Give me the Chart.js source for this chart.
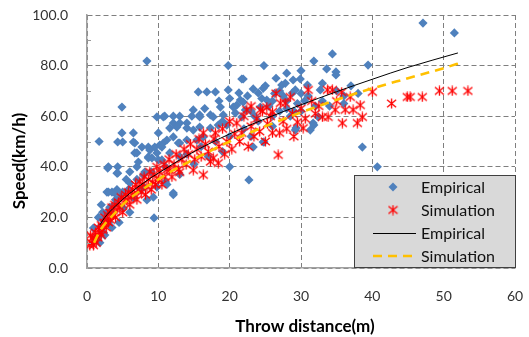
<!DOCTYPE html>
<html>
<head>
<meta charset="utf-8">
<script src="https://cdn.jsdelivr.net/npm/chart.js@4.4.1/dist/chart.umd.min.js"></script>
<style>
  html, body { margin: 0; padding: 0; background: #fff; }
  #wrap { width: 529px; height: 337px; }
</style>
</head>
<body>
<div id="wrap"><canvas id="speedChart" width="529" height="337"></canvas></div>
<script>
// measured cases: [throw distance (m), speed (km/h)]
const empiricalPoints = [
  [0.9,15.8],[1.2,12],[1.5,12],[1.8,10],[1.6,20],[1.8,16.2],[2.2,19],[2.5,20],[2.3,14],[2.8,22],[3.2,24],[3,18],[1.7,50],
  [2.8,30],[3.5,30],[4.2,31],[3.9,29.6],[3,40],[4.3,40],[4.2,37.5],[3,30],[2.9,39.5],[4.3,37.5],[5.1,23.7],[6,33.6],
  [6.5,27.7],[7,40],[7.9,36.8],[8.4,26.9],[9.3,28],[8.6,43.9],[9.8,45.5],[12.1,29.6],[9.4,19.8],
  [4.9,63.6],[9.8,59.7],[4.3,49.8],[5,49.8],[6.5,49.8],[6.7,45.5],[8.6,47.8],[9.5,47.8],[10.2,48.6],[7.2,41.9],
  [9.1,43.5],[10,42.7],[8.1,37.9],[8.4,81.8],[4.9,53.4],[6.5,53.4],[6.7,49.4],[7.7,47.8],[7,45.5],[8.8,46.6],
  [8.6,43.5],[10.7,49.4],[12.1,57.3],[10,53.4],[12.1,51.8],[13,49.4],[10.7,59.7],
  [10.9,60],[12.1,60],[13,60],[14.7,60],[15.8,60.5],[17.3,60.5],[19.1,60.5],[21,64.4],[20.8,61.3],[21.7,59.7],
  [13,57.3],[11.6,55.3],[14,55.3],[14.9,54.5],[17.3,55.3],[18.4,56.5],[19.6,56.5],[11.2,50.6],[10.5,47.8],
  [12.8,49.4],[14,50.6],[15.4,50.6],[16.3,51.8],[11.6,45.5],[10.5,42.7],[20,40],
  [24.3,63.6],[22.2,62.5],[25.2,66.4],[21.9,65.6],[31.7,57.3],[31.3,54.5],[29.2,54.5],[24.7,49.8],[23.3,47.8],
  [15.6,69.6],[16.8,69.6],[18,69.6],[19.8,70.4],[21.3,69.2],[21.9,74.7],[23.3,70.8],[24,69.2],[18.7,63.6],
  [20.5,63.6],[21.5,66.4],[14,57.3],[12.6,55.7],[15.8,59.7],[17.7,59.7],[14.9,62.5],[15.8,55.7],
  [19.8,80],[24.8,80],[21.7,74.7],
  [47.1,96.8],[51.5,92.9],[34.4,84.6],[31.8,81.8],[33.6,78.7],[34.9,76.3],[34.9,77.5],[39.4,80.2],[29.9,74.7],
  [30.9,72.3],[28.9,74.3],[27.3,72.3],[24.7,71],[24.5,67],[28.8,69.2],[29.2,70.4],[32.7,70.4],[31.8,56.5],
  [32.4,59.7],[24.8,49.8],[29.3,55.3],[38.6,47.8],[40.7,40],[22.7,34.8],[12.1,29],
  [2,25],[3.5,22],[4,27],[5,30],[5.5,35],[6,38],[7,35],[8,32],[9,38],[11,40],[13,44],[14,45],[16,48],[18,50],
  [20,52],[22,55],[24,58],[26,60],[27,62],[28,63],[30,62],[33,66],[35,70],[36,68],[37,72],[26,56],[23,52],
  [19,46],[17,44],[15,41],[13,37],[11,34],[6,22],[4.5,18],[3.5,16],[2.5,13],
  [26.5,75],[27.5,68],[29.5,65],[33,73],[36,65],[38,69],[34,64],[30,78],[28,77],
  [2.2,22],[3.8,25],[4.6,28],[5.8,31],[7.5,31],[9.8,32],[11.2,33],
  [25.5,64],[26,66],[27,70],[28,66],[28.5,60],[29,62],[30.5,66],[31,68],[26.3,69],[27.8,73],[23,62],[22.5,68],
  [25,72],[30,69],[32,64],[18.5,66],[20,67],[23.5,60],[16.5,63],[19,58]
];

// simulated cases: [throw distance (m), speed (km/h)]
const simulationPoints = [
  [0.4,9],[0.6,10],[0.8,12],[0.5,13],[0.9,9],[1,11],[1.2,14],[1.3,10],[1.5,12],[1.6,16],[1.8,14],[2,13],[2,17],
  [2.2,15],[2.4,18],[2.5,20],[2.7,16],[2.9,21],[3,18],[3.2,22],[3.3,19],[3.5,24],[3.7,21],[3.9,25],[4,20],
  [4.2,23],[4.4,26],[4.6,24],[4.8,28],[5,22],[5.2,26],[5.4,29],[5.6,27],[5.8,30],[6,25],[6.2,28],[6.4,31],
  [6.6,29],[6.8,33],[7,27],[7.2,31],[7.4,34],[7.6,30],[7.8,33],[8,36],[8.2,29],[8.4,32],[8.6,35],[8.8,38],
  [9,31],[9.2,34],[9.4,37],[9.6,33],[9.8,40],[10,35],[10.2,38],[10.5,33],[10.8,41],[10.9,36],[11.2,39],
  [11.5,43],[11.6,38.7],[11.9,36],[12.2,41],[12.5,45],[12.8,39],[13,37.9],[13.3,43],[13.6,47],[13.9,41],
  [14.2,45],[14.5,49],[14.9,38.7],[15.1,43],[15.4,47],[15.7,51],[16,44],[16.3,36.8],[16.3,53.4],[16.6,49],
  [17,46],[17.3,42],[17.7,43.5],[17.8,51],[18,53.4],[18.4,41.5],[18.5,48],[19,55],[19.3,45],[19.6,50],[20,58],
  [20.3,47],[20.7,53],[21,57.3],[21.4,50],[21.7,53.4],[22,60],[22.4,62.5],[22.6,48],[23,56],[23.4,52],
  [23.8,59],[24.2,54],[24.6,62],[25,50],[25.3,57],[25.7,60],[26,61.7],[26,53.4],[26.5,69],[26.8,44.7],
  [27,53.4],[27.1,65.2],[27.5,58],[27.8,65.2],[28,55],[28.5,67.6],[28.8,61],[29,52],[29.5,57.7],[30,63],
  [30.3,55.3],[30.6,59],[31,70.4],[31.5,66],[32,61],[32.5,64],[33,59.7],[33.7,70.4],[33.8,59.7],[34.4,70.4],
  [34.8,62.5],[35,66],[35.7,69.5],[35.8,57.3],[36.2,62.5],[36.9,67.6],[37.3,62.5],[37.9,57.3],[38.3,64.4],
  [38.6,59.7],[40,69.6],[42.7,65],[44.9,67.6],[45.3,67.6],[47,67.6],[49.4,70],[51.2,70],[53.4,70],
  [24.3,62.5],[25.2,63.6],[23,64]
];

// fitted trend curves
const empiricalFitX = [1.8, 2.5, 4, 6, 8, 10, 12, 15, 20, 25, 30, 35, 40, 45, 52];
const empiricalFitY = [17, 20, 24.5, 29.5, 33.8, 37.5, 41, 46, 53, 59, 64.5, 69.7, 74.6, 79.3, 85];
const simulationFitX = [1, 1.5, 2, 3, 4, 5, 6, 8, 10, 12, 15, 20, 25, 30, 35, 40, 45, 50, 52.7];
const simulationFitY = [10, 13, 15.5, 19, 22, 25, 27.5, 31.5, 35, 38.5, 43, 50, 56, 61.5, 66.5, 71, 75, 79, 81.4];

const seriesNames = ['Empirical', 'Simulation'];
const xTicks = [0, 10, 20, 30, 40, 50, 60];
const yTicks = [0, 20, 40, 60, 80, 100];
const yMinorTicks = [10, 30, 50, 70, 90];

const BLUE = '#4F81BD';
const RED = '#FF0000';
const GOLD = '#FFC000';
const FONT = 'Lato, "Open Sans", sans-serif';

// Excel style asterisk marker: an X with a vertical bar
function makeAsterisk(size, color) {
  const c = document.createElement('canvas');
  c.width = size; c.height = size;
  const g = c.getContext('2d');
  const m = size / 2, r = size / 2 - 0.5;
  g.strokeStyle = color;
  g.lineWidth = 1.3;
  g.beginPath();
  g.moveTo(m, m - r); g.lineTo(m, m + r);
  g.moveTo(m - r * 0.9, m - r * 0.75); g.lineTo(m + r * 0.9, m + r * 0.75);
  g.moveTo(m + r * 0.9, m - r * 0.75); g.lineTo(m - r * 0.9, m + r * 0.75);
  g.stroke();
  return c;
}
const asterisk = makeAsterisk(11, RED);

const toXY = pts => pts.map(p => ({ x: p[0], y: p[1] }));
const zipXY = (xs, ys) => xs.map((x, i) => ({ x: x, y: ys[i] }));

// axis titles, minor ticks and the boxed legend
const decorations = {
  id: 'decorations',
  afterDraw(chart) {
    const ctx = chart.ctx;
    const area = chart.chartArea;
    const ys = chart.scales.y;

    ctx.save();
    ctx.strokeStyle = '#999';
    ctx.lineWidth = 1;
    yMinorTicks.forEach(v => {
      const py = Math.round(ys.getPixelForValue(v)) + 0.5;
      ctx.beginPath();
      ctx.moveTo(area.left, py);
      ctx.lineTo(area.left + 4, py);
      ctx.stroke();
    });

    ctx.fillStyle = '#000';
    ctx.font = 'bold 17px ' + FONT;
    ctx.textAlign = 'center';
    ctx.textBaseline = 'middle';
    ctx.fillText('Throw distance(m)', 305, 327);
    ctx.save();
    ctx.translate(20, 161);
    ctx.rotate(-Math.PI / 2);
    ctx.fillText('Speed(km/h)', 0, 0);
    ctx.restore();

    // legend box
    const bx = 354.5, by = 175.5, bw = 161, bh = 92;
    ctx.fillStyle = '#D9D9D9';
    ctx.fillRect(bx, by, bw, bh);
    ctx.strokeStyle = '#404040';
    ctx.lineWidth = 1;
    ctx.strokeRect(bx, by, bw, bh);

    const rowY = [187, 210, 233, 256];
    const mx = 393;
    ctx.fillStyle = BLUE;
    ctx.beginPath();
    ctx.moveTo(mx - 4.5, rowY[0]); ctx.lineTo(mx, rowY[0] - 4.5);
    ctx.lineTo(mx + 4.5, rowY[0]); ctx.lineTo(mx, rowY[0] + 4.5);
    ctx.closePath();
    ctx.fill();
    ctx.drawImage(asterisk, mx - asterisk.width / 2, rowY[1] - asterisk.height / 2);

    ctx.strokeStyle = '#000';
    ctx.lineWidth = 1;
    ctx.beginPath();
    ctx.moveTo(373, rowY[2] + 0.5); ctx.lineTo(416, rowY[2] + 0.5);
    ctx.stroke();
    ctx.strokeStyle = GOLD;
    ctx.lineWidth = 2.5;
    ctx.setLineDash([9, 6]);
    ctx.beginPath();
    ctx.moveTo(373, rowY[3]); ctx.lineTo(418, rowY[3]);
    ctx.stroke();
    ctx.setLineDash([]);

    ctx.fillStyle = '#111';
    ctx.font = '16px ' + FONT;
    ctx.textAlign = 'left';
    ctx.textBaseline = 'middle';
    [seriesNames[0], seriesNames[1], seriesNames[0], seriesNames[1]].forEach((t, i) => {
      ctx.fillText(t, 421, rowY[i] + 1);
    });
    ctx.restore();
  }
};

new Chart(document.getElementById('speedChart'), {
  type: 'scatter',
  data: {
    datasets: [
      {
        label: seriesNames[0],
        data: toXY(empiricalPoints),
        pointStyle: 'rectRot',
        pointRadius: 4.6,
        backgroundColor: BLUE,
        borderColor: BLUE,
        borderWidth: 0,
        order: 4
      },
      {
        label: seriesNames[1],
        data: toXY(simulationPoints),
        pointStyle: asterisk,
        pointRadius: 5,
        order: 3
      },
      {
        label: seriesNames[0],
        data: zipXY(empiricalFitX, empiricalFitY),
        showLine: true,
        borderColor: '#000',
        borderWidth: 1,
        pointRadius: 0,
        cubicInterpolationMode: 'monotone',
        order: 2
      },
      {
        label: seriesNames[1],
        data: zipXY(simulationFitX, simulationFitY),
        showLine: true,
        borderColor: GOLD,
        borderWidth: 2.6,
        borderDash: [9, 6],
        pointRadius: 0,
        cubicInterpolationMode: 'monotone',
        order: 1
      }
    ]
  },
  options: {
    responsive: false,
    animation: false,
    layout: { padding: { left: 0, right: 14, top: 15, bottom: 0 } },
    plugins: {
      legend: { display: false },
      tooltip: { enabled: false }
    },
    scales: {
      x: {
        type: 'linear',
        min: xTicks[0],
        max: xTicks[xTicks.length - 1],
        afterFit: s => { s.height = 69; s.paddingLeft = 0; s.paddingRight = 0; },
        afterBuildTicks: s => { s.ticks = xTicks.map(v => ({ value: v })); },
        ticks: {
          padding: 20,
          color: '#333',
          font: { family: FONT, size: 14 }
        },
        grid: { color: '#7F7F7F', lineWidth: 1, drawTicks: false },
        border: { display: true, color: '#A0A0A0', width: 1.5, dash: [5, 3] }
      },
      y: {
        type: 'linear',
        min: yTicks[0],
        max: yTicks[yTicks.length - 1],
        afterFit: s => { s.width = 87; s.paddingTop = 0; s.paddingBottom = 0; },
        afterBuildTicks: s => { s.ticks = yTicks.map(v => ({ value: v })); },
        ticks: {
          padding: 19,
          color: '#333',
          font: { family: FONT, size: 14 },
          callback: v => v.toFixed(1)
        },
        grid: { color: '#7F7F7F', lineWidth: 1, drawTicks: false },
        border: { display: true, color: '#A0A0A0', width: 1.5, dash: [5, 3] }
      }
    }
  },
  plugins: [decorations]
});
</script>
</body>
</html>
